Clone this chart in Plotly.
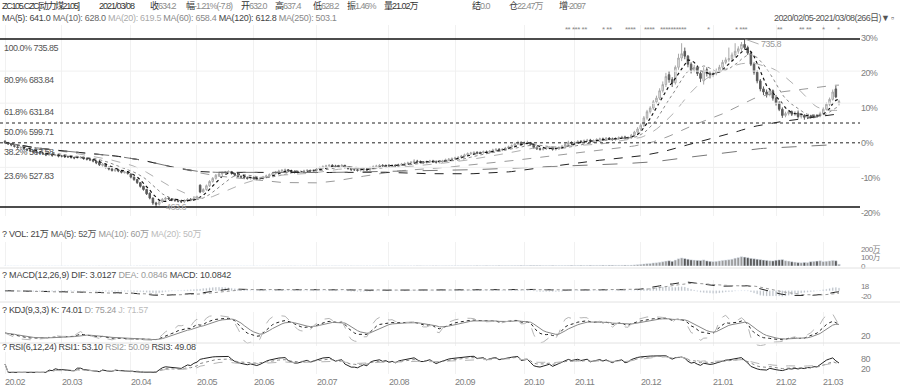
import numpy as np
import pandas as pd
import plotly.graph_objects as go

# ---------------- data (daily, 2020/02/05 - 2021/03/08, 266 trading days) ----------------
close = [
    568, 566, 564, 562, 560, 560, 558, 556, 555, 553, 552, 551, 550, 548, 549, 547, 548, 546,
    546, 545, 545, 544, 543, 544, 544, 542, 541, 540, 538, 535, 532, 533, 528, 525, 523, 524, 522, 520, 520, 518,
    512, 508, 503, 497, 492, 485, 478, 470, 468, 472, 476, 478, 477, 475, 474, 473, 472, 474, 476, 475, 478,
    480, 488, 492, 498, 505, 510, 515, 517, 519, 520, 521, 518, 515, 513, 512, 511, 510, 511,
    510, 509, 510, 512, 514, 516, 518, 520, 522, 523, 524, 522, 521, 520, 520, 521, 522, 523, 522, 523,
    525, 527, 529, 530, 531, 530, 529, 530, 531, 528, 526, 524, 524, 523, 524, 525, 524, 527, 529, 530, 531, 530, 531,
    530, 531, 530, 532, 533, 534, 535, 536, 538, 537, 536, 536, 537, 538, 537, 536, 537, 538, 540, 541, 542,
    543, 544, 546, 548, 550, 551, 552, 551, 552, 553, 552, 554, 556, 557, 556, 557, 559, 561, 563, 566, 568, 565,
    567, 568, 565, 560, 558, 557, 558, 559, 560, 557, 558, 560, 562, 565, 568, 567,
    568, 570, 569, 571, 572, 570, 571, 573, 574, 573, 575, 574, 573, 575, 576, 577, 575, 576, 580, 585, 590,
    596, 608, 618, 624, 634, 640, 652, 662, 675, 670, 665, 690, 705, 712, 708, 695, 685, 690, 680, 672, 685, 680, 678,
    680, 684, 690, 698, 702, 704, 710, 716, 720, 727, 722, 713, 695, 682, 668, 655, 650, 646, 652, 640,
    632, 622, 612, 615, 618, 614, 616, 610, 612, 609, 611, 610, 612, 611, 615,
    622, 630, 638, 650, 642, 634.2,
]
open_ = [
    570, 567, 566, 563, 561, 559, 560, 557, 556, 555, 553, 552, 551, 550, 548, 549, 547, 548,
    546, 546, 545, 545, 544, 543, 544, 544, 542, 541, 540, 538, 536, 531, 533, 528, 525, 522, 524, 522, 519, 520,
    517, 512, 508, 503, 497, 492, 486, 478, 470, 468, 472, 476, 478, 477, 475, 474, 473, 472, 474, 476, 475,
    478, 499, 488, 492, 498, 505, 510, 515, 517, 519, 520, 521, 518, 515, 513, 512, 511, 510,
    511, 510, 509, 510, 512, 514, 516, 518, 520, 522, 523, 524, 522, 521, 520, 520, 521, 522, 523, 522,
    523, 525, 527, 529, 530, 531, 530, 529, 530, 531, 528, 526, 524, 524, 523, 524, 525, 524, 527, 529, 530, 531, 530,
    531, 530, 531, 530, 532, 533, 534, 535, 536, 538, 537, 536, 536, 537, 538, 537, 536, 537, 538, 540, 541,
    542, 543, 544, 546, 548, 550, 551, 552, 551, 552, 553, 552, 554, 556, 557, 556, 557, 559, 561, 563, 566, 568,
    566, 567, 568, 565, 560, 558, 557, 558, 559, 560, 557, 558, 560, 562, 565, 568,
    567, 568, 570, 569, 571, 572, 570, 571, 573, 574, 573, 575, 574, 573, 575, 576, 577, 575, 576, 580, 585,
    590, 596, 608, 618, 624, 634, 640, 652, 662, 678, 670, 665, 690, 705, 716, 708, 695, 685, 690, 680, 668, 686, 680,
    678, 680, 684, 690, 698, 702, 704, 710, 716, 720, 727, 722, 713, 695, 682, 668, 655, 650, 646, 652,
    640, 632, 622, 612, 615, 618, 614, 616, 610, 612, 609, 611, 610, 612, 611,
    615, 622, 630, 638, 655, 632.0,
]
high = [
    572, 569, 567, 565, 563, 562, 561, 559, 558, 556, 555, 554, 553, 551, 551, 550, 549, 549,
    548, 547, 547, 546, 545, 546, 546, 545, 544, 542, 541, 539, 540, 535, 534, 529, 527, 526, 525, 523, 522, 521,
    518, 513, 509, 504, 498, 493, 487, 479, 472, 474, 478, 480, 480, 478, 477, 476, 475, 476, 478, 478, 480,
    482, 500, 494, 500, 507, 512, 517, 519, 521, 522, 523, 522, 519, 516, 515, 514, 513, 513,
    513, 512, 512, 514, 516, 518, 520, 522, 524, 525, 526, 525, 524, 523, 522, 523, 524, 525, 524, 525,
    527, 529, 531, 532, 533, 533, 532, 532, 533, 532, 530, 528, 526, 526, 526, 527, 527, 529, 531, 532, 533, 533, 533,
    533, 533, 533, 534, 535, 536, 537, 538, 541, 540, 539, 538, 539, 540, 540, 539, 539, 540, 542, 543, 544,
    545, 546, 548, 550, 552, 553, 554, 554, 554, 555, 555, 556, 558, 559, 559, 559, 561, 563, 565, 568, 571, 570,
    570, 571, 569, 566, 562, 560, 560, 561, 562, 561, 560, 562, 564, 567, 571, 570,
    570, 572, 572, 573, 574, 574, 573, 575, 576, 576, 577, 577, 576, 577, 578, 579, 579, 578, 582, 587, 593,
    599, 611, 621, 627, 637, 644, 656, 667, 681, 684, 674, 693, 712, 729, 722, 710, 698, 694, 693, 684, 690, 690, 684,
    684, 688, 694, 702, 706, 722, 714, 729, 724, 731, 735.85, 725, 716, 698, 685, 671, 659, 654, 656, 654,
    645, 635, 625, 618, 621, 620, 619, 620, 615, 614, 613, 613, 614, 614, 618,
    625, 633, 641, 654, 660, 637.4,
]
low = [
    566, 564, 562, 560, 558, 558, 556, 554, 553, 551, 550, 549, 548, 546, 547, 545, 546, 544,
    544, 543, 543, 542, 541, 542, 542, 540, 539, 538, 536, 533, 530, 529, 526, 523, 521, 521, 520, 518, 518, 516,
    510, 506, 501, 495, 490, 483, 476, 467, 463.57, 466, 470, 474, 475, 473, 472, 471, 470, 470, 472, 473, 474,
    476, 486, 487, 490, 496, 503, 508, 513, 515, 517, 518, 516, 513, 511, 510, 509, 508, 508,
    508, 507, 507, 508, 510, 512, 514, 516, 518, 520, 521, 520, 519, 518, 518, 518, 519, 520, 520, 520,
    521, 523, 525, 527, 528, 528, 527, 527, 528, 526, 524, 522, 522, 521, 521, 522, 522, 522, 525, 527, 528, 528, 528,
    528, 528, 528, 528, 530, 531, 532, 533, 534, 535, 534, 534, 534, 535, 535, 534, 534, 535, 536, 538, 539,
    540, 541, 542, 544, 546, 548, 549, 549, 549, 550, 550, 550, 552, 554, 554, 554, 555, 557, 559, 561, 564, 563,
    563, 565, 563, 558, 556, 555, 555, 556, 557, 555, 555, 556, 558, 560, 563, 564,
    565, 566, 567, 567, 569, 569, 568, 569, 571, 571, 571, 572, 571, 571, 573, 574, 573, 573, 574, 578, 583,
    587, 593, 605, 615, 621, 631, 637, 649, 658, 665, 658, 662, 686, 700, 703, 690, 680, 682, 676, 666, 662, 675, 672,
    674, 677, 681, 687, 695, 699, 700, 706, 712, 716, 719, 710, 692, 678, 664, 651, 645, 641, 643, 636,
    628, 619, 608, 609, 612, 611, 611, 607, 607, 605, 606, 607, 607, 608, 609,
    613, 620, 627, 636, 640, 628.2,
]
volume_wan = [
    0.3, 0.2, 0.3, 0.2, 0.2, 0.3, 0.2, 0.2, 0.3, 0.2, 0.2, 0.2, 0.3, 0.2, 0.2, 0.3, 0.2, 0.2,
    0.2, 0.3, 0.2, 0.2, 0.3, 0.2, 0.2, 0.3, 0.3, 0.2, 0.3, 0.4, 0.5, 0.4, 0.5, 0.4, 0.3, 0.3, 0.3, 0.4, 0.3, 0.3,
    0.4, 0.4, 0.5, 0.5, 0.6, 0.6, 0.7, 0.8, 0.7, 0.6, 0.5, 0.5, 0.4, 0.4, 0.4, 0.3, 0.3, 0.4, 0.4, 0.3, 0.4,
    0.4, 0.8, 0.6, 0.6, 0.7, 0.6, 0.6, 0.5, 0.5, 0.5, 0.4, 0.4, 0.4, 0.4, 0.4, 0.3, 0.3, 0.3,
    0.4, 0.3, 0.4, 0.4, 0.5, 0.5, 0.5, 0.6, 0.5, 0.5, 0.6, 0.5, 0.5, 0.5, 0.4, 0.5, 0.5, 0.6, 0.5, 0.6,
    0.6, 0.7, 0.7, 0.8, 0.8, 0.7, 0.7, 0.8, 0.9, 0.8, 0.8, 0.8, 0.7, 0.7, 0.8, 0.8, 0.8, 0.9, 1.0, 1.0, 1.1, 1.0, 1.1,
    1.1, 1.2, 1.1, 1.3, 1.3, 1.4, 1.4, 1.5, 1.7, 1.6, 1.5, 1.5, 1.6, 1.7, 1.6, 1.6, 1.7, 1.8, 2.0, 2.1, 2.2,
    2.2, 2.3, 2.5, 2.7, 2.9, 3.0, 3.1, 3.0, 3.1, 3.2, 3.1, 3.3, 3.6, 3.7, 3.6, 3.7, 4.0, 4.3, 4.6, 5.0, 5.4, 5.0,
    5.2, 5.3, 5.0, 4.8, 4.6, 4.5, 4.6, 4.8, 5.0, 4.8, 5.0, 5.3, 5.6, 6.0, 6.5, 6.3,
    6.5, 6.8, 6.6, 7.0, 7.2, 7.0, 7.3, 7.6, 7.8, 7.6, 8.0, 7.9, 7.8, 8.2, 8.5, 8.8, 8.5, 9.0, 10.5, 13.0, 16.0,
    20, 24, 28, 30, 36, 38, 44, 50, 58, 62, 55, 70, 85, 95, 88, 80, 72, 70, 66, 64, 72, 60, 55,
    52, 55, 60, 66, 70, 74, 80, 92, 100, 110, 105, 98, 90, 85, 80, 75, 70, 66, 62, 60,
    68, 72, 75, 62, 58, 50, 46, 40, 38, 42, 40, 50, 55, 58, 62,
    52, 56, 60, 66, 62, 21.02,
]
month_labels = ["20.02", "20.03", "20.04", "20.05", "20.06", "20.07", "20.08", "20.09",
                "20.10", "20.11", "20.12", "21.01", "21.02", "21.03"]
month_start = [0, 18, 40, 61, 79, 99, 122, 143, 165, 181, 202, 225, 245, 260]

fib_pct = ["100.0%", "80.9%", "61.8%", "50.0%", "38.2%", "23.6%"]
fib_val = [735.85, 683.84, 631.84, 599.71, 567.58, 527.83]
fib_low = 463.57
pct_base = 567.58
pct_ticks = [0.30, 0.20, 0.10, 0.0, -0.10, -0.20]
pct_text = ["30%", "20%", "10%", "0%", "-10%", "-20%"]
peak_idx, peak_label = 235, "735.8"
low_idx, low_label = 48, "463.6"

# ---------------- indicators ----------------
c = pd.Series(close, dtype=float)
h = pd.Series(high, dtype=float)
l = pd.Series(low, dtype=float)
n = len(c)
xi = list(range(n))
ma = {p: c.rolling(p, min_periods=1).mean() for p in (5, 10, 20, 60, 120, 250)}
dif = c.ewm(span=12, adjust=False).mean() - c.ewm(span=26, adjust=False).mean()
dea = dif.ewm(span=9, adjust=False).mean()
macd_hist = 2 * (dif - dea)
llv = l.rolling(9, min_periods=1).min()
hhv = h.rolling(9, min_periods=1).max()
rsv = ((c - llv) / (hhv - llv).replace(0, np.nan) * 100).fillna(50)
K = rsv.ewm(alpha=1 / 3, adjust=False).mean()
D = K.ewm(alpha=1 / 3, adjust=False).mean()
J = 3 * K - 2 * D
dlt = c.diff().fillna(0)


def rsi(p):
    up_ = dlt.clip(lower=0).ewm(alpha=1 / p, adjust=False).mean()
    dn_ = dlt.abs().ewm(alpha=1 / p, adjust=False).mean()
    return (up_ / dn_.replace(0, np.nan) * 100).fillna(50)


# ---------------- layout helpers ----------------
W, H = 900, 390
PR = 860  # plot right edge (px); paper x spans 0..PR
FONT = "Liberation Sans, Arial, Noto Sans CJK SC, sans-serif"


def cond(s, ls=-0.8):
    return f"<span style='letter-spacing:{ls}px'>{s}</span>"


def ydom(top, bot):
    return [1 - bot / H, 1 - top / H]


px0, px1 = 5, 839
span = (n - 1) * PR / (px1 - px0)
xr0 = -px0 * span / PR
xrange = [xr0, xr0 + span]

fig = go.Figure()
up = [cc >= oo for cc, oo in zip(close, open_)]

fig.add_trace(go.Candlestick(
    x=xi, open=open_, high=high, low=low, close=close,
    increasing=dict(line=dict(color="#a8a8a8", width=1), fillcolor="#f2f2f2"),
    decreasing=dict(line=dict(color="#5a5a5a", width=1), fillcolor="#5a5a5a"),
    whiskerwidth=0, showlegend=False, hoverinfo="skip", xaxis="x", yaxis="y"))

ma_style = {5: ("#111111", "dot", 1.2), 10: ("#8a8a8a", "dot", 1.0), 20: ("#b0b0b0", "dash", 1.0),
            60: ("#9a9a9a", "dash", 1.0), 120: ("#222222", "dash", 1.0), 250: ("#777777", "longdash", 1.0)}
for p, (col, dsh, wd) in ma_style.items():
    fig.add_trace(go.Scatter(x=xi, y=ma[p], mode="lines", line=dict(color=col, dash=dsh, width=wd),
                             showlegend=False, hoverinfo="skip", xaxis="x", yaxis="y"))

fig.add_trace(go.Bar(x=xi, y=volume_wan, marker=dict(color=["#9a9a9a" if u else "#555555" for u in up]),
                     showlegend=False, hoverinfo="skip", xaxis="x2", yaxis="y2"))

fig.add_trace(go.Bar(x=xi, y=macd_hist, width=0.35, marker=dict(color="#a0a0a0"),
                     showlegend=False, hoverinfo="skip", xaxis="x3", yaxis="y3"))
fig.add_trace(go.Scatter(x=xi, y=dif, mode="lines", line=dict(color="#222", dash="dash", width=1),
                         showlegend=False, hoverinfo="skip", xaxis="x3", yaxis="y3"))
fig.add_trace(go.Scatter(x=xi, y=dea, mode="lines", line=dict(color="#999", dash="dot", width=1),
                         showlegend=False, hoverinfo="skip", xaxis="x3", yaxis="y3"))

for s, col, dsh in ((K, "#222", "dot"), (D, "#888", "solid"), (J, "#b5b5b5", "dash")):
    fig.add_trace(go.Scatter(x=xi, y=s, mode="lines", line=dict(color=col, dash=dsh, width=1),
                             showlegend=False, hoverinfo="skip", xaxis="x4", yaxis="y4"))
for s, col, dsh in ((rsi(6), "#222", "solid"), (rsi(12), "#888", "dot"), (rsi(24), "#b5b5b5", "dash")):
    fig.add_trace(go.Scatter(x=xi, y=s, mode="lines", line=dict(color=col, dash=dsh, width=1),
                             showlegend=False, hoverinfo="skip", xaxis="x5", yaxis="y5"))

# axes
tickfont = dict(family=FONT, size=9, color="#808080")
xcommon = dict(domain=[0, 1], range=xrange, showticklabels=False, showgrid=True,
               gridcolor="#f1f1f1", gridwidth=1, tickvals=month_start, ticks="", zeroline=False,
               showline=False, fixedrange=True, automargin=False)
layout_axes = {}
for k, name in enumerate(["xaxis", "xaxis2", "xaxis3", "xaxis4", "xaxis5"]):
    d = dict(xcommon)
    d["anchor"] = "y" if k == 0 else f"y{k + 1}"
    if k > 0:
        d["matches"] = "x"
    if k == 0:
        d["rangeslider"] = dict(visible=False)
    layout_axes[name] = d

# main price axis: 463.57 at y=207px, 735.85 at y=39px
ppp = (fib_val[0] - fib_low) / (207 - 39)
main_top, main_bot = 25, 216
yr_main = [fib_low - (main_bot - 207) * ppp, fib_val[0] + (39 - main_top) * ppp]
ycommon = dict(side="right", showgrid=False, zeroline=False, showline=False, ticks="",
               tickfont=tickfont, fixedrange=True, automargin=False)


def tt(lst):
    return [cond(t, -0.6) for t in lst]


layout_axes["yaxis"] = dict(ycommon, anchor="x", domain=ydom(main_top, main_bot), range=yr_main,
                            tickvals=[pct_base * (1 + t) for t in pct_ticks], ticktext=tt(pct_text))
layout_axes["yaxis2"] = dict(ycommon, anchor="x2", domain=ydom(242, 266), range=[0, 200 * 24 / 17],
                             tickvals=[200, 100, 0], ticktext=tt(["200万", "100万", "0"]),
                             tickfont=dict(family=FONT, size=8, color="#808080"))
upx = 38 / 10
layout_axes["yaxis3"] = dict(ycommon, anchor="x3", domain=ydom(280, 300),
                             range=[-20 - 4 * upx, 18 + 6 * upx],
                             tickvals=[18, -20], ticktext=tt(["18", "-20"]),
                             tickfont=dict(family=FONT, size=8, color="#808080"))
layout_axes["yaxis4"] = dict(ycommon, anchor="x4", domain=ydom(312, 346), range=[-20, 120],
                             tickvals=[20], ticktext=tt(["20"]))
layout_axes["yaxis5"] = dict(ycommon, anchor="x5", domain=ydom(352, 374), range=[-10, 122],
                             tickvals=[80, 20], ticktext=tt(["80", "20"]))

shapes = []
shapes.append(dict(type="line", xref="x domain", yref="y", x0=0, x1=1, y0=fib_val[0], y1=fib_val[0],
                   line=dict(color="#111", width=1.3)))
shapes.append(dict(type="line", xref="x domain", yref="y", x0=0, x1=1, y0=fib_low, y1=fib_low,
                   line=dict(color="#111", width=1.3)))
for v in (fib_val[3], fib_val[4]):
    shapes.append(dict(type="line", xref="x domain", yref="y", x0=0, x1=1, y0=v, y1=v,
                       line=dict(color="#222", width=1, dash="dot")))
for v in (fib_val[1], fib_val[2], fib_val[5]):
    shapes.append(dict(type="line", xref="x domain", yref="y", x0=0, x1=1, y0=v, y1=v,
                       line=dict(color="#f0f0f0", width=1)))
for ypx in (268, 302, 343):
    shapes.append(dict(type="line", xref="paper", yref="paper", x0=0, x1=W / PR, y0=1 - ypx / H,
                       y1=1 - ypx / H, line=dict(color="#e2e2e2", width=1)))

ann = []


def txt(x_px, y_px, text, size=9, color="#555", anchor="left", ls=-0.8):
    ann.append(dict(xref="paper", yref="paper", x=x_px / PR, y=1 - y_px / H, text=cond(text, ls),
                    showarrow=False, xanchor=anchor, yanchor="middle",
                    font=dict(family=FONT, size=size, color=color)))


DK, LG = "#333333", "#8c8c8c"
head1 = [(0, f"<span style='color:{DK}'>ZC105.CZC[动力煤2105]</span>"),
         (97, f"<span style='color:{DK}'>2021/03/08</span>"),
         (148, f"<span style='color:{DK}'>收</span>634.2"),
         (184, f"<span style='color:{DK}'>幅</span>-1.21%(-7.8)"),
         (239, f"<span style='color:{DK}'>开</span>632.0"),
         (273, f"<span style='color:{DK}'>高</span>637.4"),
         (311, f"<span style='color:{DK}'>低</span>628.2"),
         (345, f"<span style='color:{DK}'>振</span>1.46%"),
         (382, f"<span style='color:{DK}'>量21.02万</span>"),
         (470, f"<span style='color:{DK}'>结</span>0.0"),
         (507, f"<span style='color:{DK}'>仓</span>22.47万"),
         (557, f"<span style='color:{DK}'>增</span>-2097")]
for k, (xp, t) in enumerate(head1):
    txt(xp, 6, t, size=9, color=LG, ls=-1.3 if k == 0 else -1)

txt(0, 18, "<span style='color:#444'>MA(5): 641.0</span> <span style='color:#666'>MA(10): 628.0</span> "
           "<span style='color:#aaa'>MA(20): 619.5</span> <span style='color:#888'>MA(60): 658.4</span> "
           "<span style='color:#444'>MA(120): 612.8</span> <span style='color:#888'>MA(250): 503.1</span>",
    size=9, color="#666", ls=-0.3)
txt(896, 18, "2020/02/05-2021/03/08(266日)▼ ▫", size=9, color="#555", anchor="right", ls=-0.6)

star_groups = ["** *** **", "* **", "****", "****", "**********", "*", "* ***", "**", "** **", "*", "*"]
star_px = [563, 600, 623, 642, 658, 705, 733, 775, 797, 820, 835]
for sx, sg in zip(star_px, star_groups):
    txt(sx, 30, sg, size=8, color="#888", ls=-0.5)

for p, v in zip(fib_pct, fib_val):
    ann.append(dict(xref="paper", yref="y", x=2 / PR, y=v, text=cond(f"{p} {v:.2f}", -0.5), showarrow=False,
                    xanchor="left", yanchor="top", yshift=-2, font=dict(family=FONT, size=9, color="#555")))

ann.append(dict(xref="x", yref="y", x=peak_idx, y=high[peak_idx], text=cond(peak_label, -0.5), showarrow=True,
                arrowhead=0, arrowwidth=0.8, arrowcolor="#999", ax=14, ay=5, xanchor="left",
                font=dict(family=FONT, size=9, color="#999")))
ann.append(dict(xref="x", yref="y", x=low_idx, y=low[low_idx], text=cond(low_label, -0.5), showarrow=False,
                xanchor="left", yanchor="middle", xshift=8, font=dict(family=FONT, size=9, color="#aaa")))

txt(0, 234, "<span style='color:#444'>? VOL: 21万</span> <span style='color:#555'>MA(5): 52万</span> "
            "<span style='color:#999'>MA(10): 60万</span> <span style='color:#bbb'>MA(20): 50万</span>", ls=-0.3)
txt(0, 275, "<span style='color:#444'>? MACD(12,26,9) DIF: 3.0127</span> <span style='color:#999'>DEA: 0.0846</span> "
            "<span style='color:#444'>MACD: 10.0842</span>", ls=-0.2)
txt(0, 310, "<span style='color:#444'>? KDJ(9,3,3) K: 74.01</span> <span style='color:#999'>D: 75.24</span> "
            "<span style='color:#bbb'>J: 71.57</span>", ls=-0.3)
txt(0, 347, "<span style='color:#444'>? RSI(6,12,24) RSI1: 53.10</span> <span style='color:#999'>RSI2: 50.09</span> "
            "<span style='color:#444'>RSI3: 49.08</span>", ls=-0.3)

for ms, ml in zip(month_start, month_labels):
    ann.append(dict(xref="x5", yref="paper", x=ms, y=1 - 382 / H, text=cond(ml, -0.5), showarrow=False,
                    xanchor="left", yanchor="middle", xshift=-2, font=dict(family=FONT, size=9, color="#808080")))

fig.update_layout(width=W, height=H, margin=dict(l=0, r=W - PR, t=0, b=0, pad=0, autoexpand=False),
                  paper_bgcolor="white", plot_bgcolor="white", showlegend=False, bargap=0.2,
                  shapes=shapes, annotations=ann, font=dict(family=FONT), **layout_axes)
fig.write_html("out.html", config={"displayModeBar": False},
               post_script="document.body.style.margin='0px';document.body.style.overflow='hidden';")
